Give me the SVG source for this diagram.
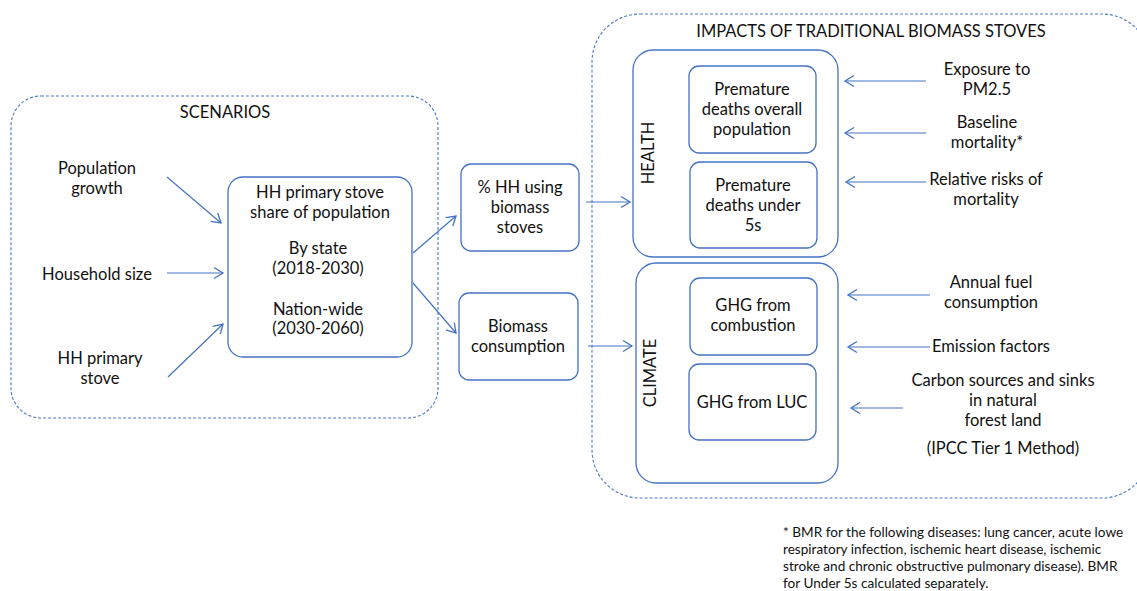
<svg xmlns="http://www.w3.org/2000/svg" width="1137" height="591" viewBox="0 0 1137 591">
<style>
text{font-family:Lato,"Liberation Sans",sans-serif;font-size:16.5px;fill:#111;text-anchor:middle}
.dash{fill:none;stroke:#4a78c8;stroke-width:1.1;stroke-dasharray:3 2}
.box{fill:#fff;stroke:#4472C4;stroke-width:1.3}
.c{fill:none;stroke:#4472C4;stroke-width:1.2;marker-end:url(#a)}
.fn{font-size:13.6px;text-anchor:start}
</style>
<defs>
<marker id="a" markerWidth="12" markerHeight="14" refX="10" refY="7" orient="auto" markerUnits="userSpaceOnUse">
<path d="M1,1.5 L10,7 L1,12.5" fill="none" stroke="#4472C4" stroke-width="1.3"/>
</marker>
</defs>
<g id="scenarios">
<rect class="dash" x="11" y="96" width="427" height="322" rx="30"/>
<text x="225" y="118">SCENARIOS</text>
</g>
<g id="pop-growth"><text x="97" y="174">Population</text><text x="97" y="194">growth</text></g>
<g id="hh-size"><text x="97" y="280">Household size</text></g>
<g id="hh-primary"><text x="100" y="364">HH primary</text><text x="100" y="384">stove</text></g>
<g id="share">
<rect class="box" x="228" y="177" width="184" height="180" rx="15"/>
<text x="320" y="198">HH primary stove</text>
<text x="320" y="218">share of population</text>
<text x="318" y="254">By state</text>
<text x="318" y="274">(2018-2030)</text>
<text x="318" y="315">Nation-wide</text>
<text x="318" y="334">(2030-2060)</text>
</g>
<g id="pct-hh">
<rect class="box" x="461" y="164" width="118" height="87" rx="10"/>
<text x="520" y="193">% HH using</text>
<text x="520" y="213">biomass</text>
<text x="520" y="233">stoves</text>
</g>
<g id="biomass">
<rect class="box" x="459" y="293" width="119" height="87" rx="10"/>
<text x="518" y="332">Biomass</text>
<text x="518" y="352">consumption</text>
</g>
<g id="impacts">
<rect class="dash" x="592" y="14" width="558" height="484" rx="48"/>
<text x="871" y="37">IMPACTS OF TRADITIONAL BIOMASS STOVES</text>
</g>
<g id="health">
<rect class="box" x="633" y="50" width="205" height="207" rx="20"/>
<text transform="translate(654 153) rotate(-90)">HEALTH</text>
</g>
<g id="pd-overall">
<rect class="box" x="689" y="66" width="127" height="87" rx="10"/>
<text x="752" y="95">Premature</text>
<text x="752" y="115">deaths overall</text>
<text x="752" y="135">population</text>
</g>
<g id="pd-under5">
<rect class="box" x="690" y="162" width="127" height="86" rx="10"/>
<text x="753" y="191">Premature</text>
<text x="753" y="211">deaths under</text>
<text x="753" y="231">5s</text>
</g>
<g id="climate">
<rect class="box" x="636" y="263" width="202" height="220" rx="20"/>
<text transform="translate(656 373) rotate(-90)">CLIMATE</text>
</g>
<g id="ghg-comb">
<rect class="box" x="690" y="278" width="127" height="77" rx="10"/>
<text x="753" y="311">GHG from</text>
<text x="753" y="331">combustion</text>
</g>
<g id="ghg-luc">
<rect class="box" x="689" y="364" width="127" height="76" rx="10"/>
<text x="752" y="408">GHG from LUC</text>
</g>
<g id="exposure"><text x="987" y="75">Exposure to</text><text x="987" y="95">PM2.5</text></g>
<g id="baseline"><text x="987" y="128">Baseline</text><text x="987" y="148">mortality*</text></g>
<g id="rr"><text x="986" y="185">Relative risks of</text><text x="986" y="205">mortality</text></g>
<g id="fuel"><text x="991" y="288">Annual fuel</text><text x="991" y="308">consumption</text></g>
<g id="ef"><text x="991" y="352">Emission factors</text></g>
<g id="carbon"><text x="1003" y="386">Carbon sources and sinks</text><text x="1003" y="406">in natural</text><text x="1003" y="426">forest land</text><text x="1003" y="454">(IPCC Tier 1 Method)</text></g>
<g id="footnote">
<text class="fn" x="783" y="537">* BMR for the following diseases: lung cancer, acute lowe</text>
<text class="fn" x="783" y="554">respiratory infection, ischemic heart disease, ischemic</text>
<text class="fn" x="783" y="571">stroke and chronic obstructive pulmonary disease). BMR</text>
<text class="fn" x="783" y="588">for Under 5s calculated separately.</text>
</g>
<g id="connectors">
<line class="c" x1="167" y1="177" x2="221" y2="223"/>
<line class="c" x1="167" y1="273" x2="223" y2="273"/>
<line class="c" x1="168" y1="377" x2="223" y2="324"/>
<line class="c" x1="413" y1="253" x2="456" y2="216"/>
<line class="c" x1="413" y1="283" x2="456" y2="333"/>
<line class="c" x1="586" y1="202" x2="630" y2="202"/>
<line class="c" x1="588" y1="346" x2="632" y2="346"/>
<line class="c" x1="926" y1="81" x2="845" y2="81"/>
<line class="c" x1="926" y1="133" x2="845" y2="133"/>
<line class="c" x1="926" y1="182" x2="846" y2="182"/>
<line class="c" x1="930" y1="295" x2="848" y2="295"/>
<line class="c" x1="930" y1="347" x2="848" y2="347"/>
<line class="c" x1="903" y1="408" x2="851" y2="408"/>
</g>
</svg>
